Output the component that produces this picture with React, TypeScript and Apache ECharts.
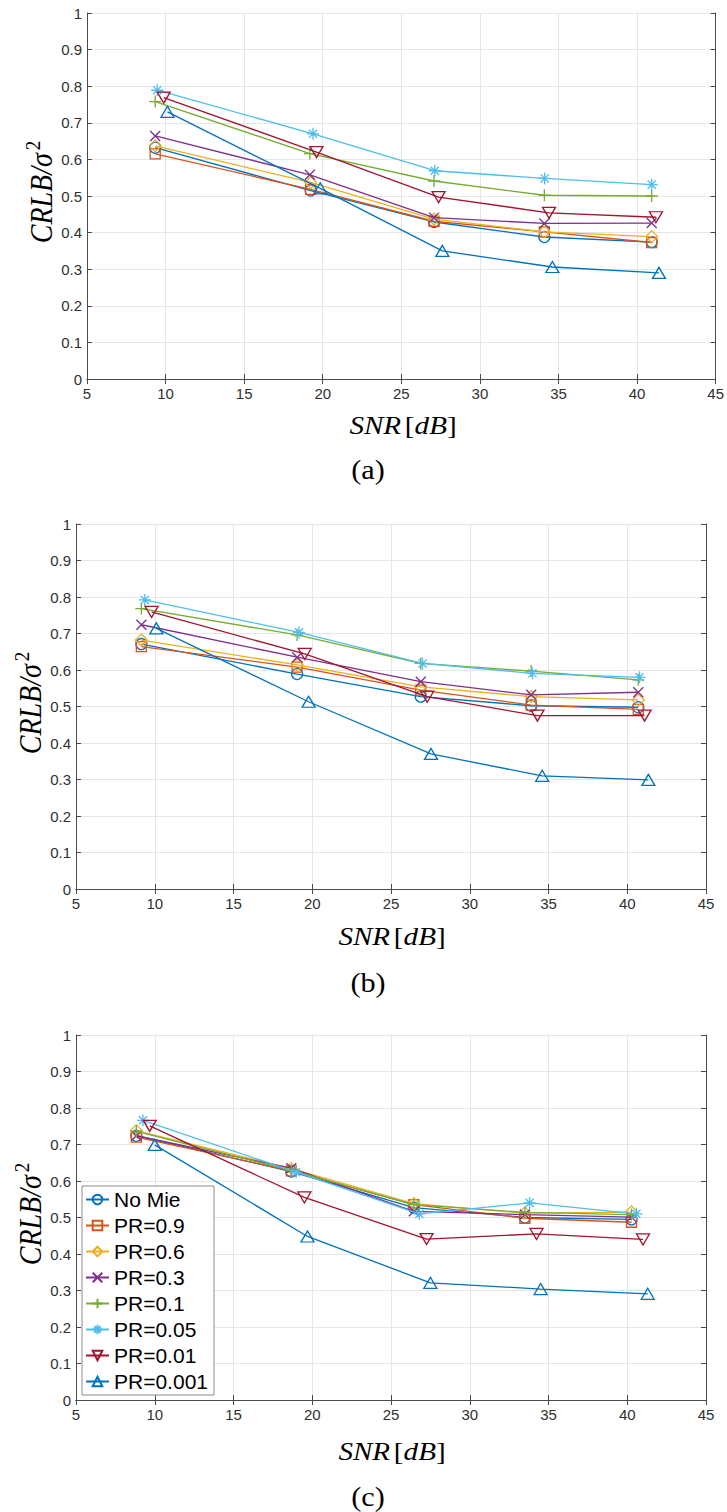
import React, { useEffect, useRef } from 'react';
import * as echarts from 'echarts';

// Legend entries and MATLAB-style line colours
const seriesNames = ['No Mie', 'PR=0.9', 'PR=0.6', 'PR=0.3', 'PR=0.1', 'PR=0.05', 'PR=0.01', 'PR=0.001'];
const seriesColors = ['#0072BD', '#D95319', '#EDB120', '#7E2F8E', '#77AC30', '#4DBEEE', '#A2142F', '#0072BD'];

// Axis ticks
const snrTicks = [5, 10, 15, 20, 25, 30, 35, 40, 45];
const crlbTicks = [0, 0.1, 0.2, 0.3, 0.4, 0.5, 0.6, 0.7, 0.8, 0.9, 1];

// Panel (a): SNR [dB] and CRLB/sigma^2, one row per series
const snrA = [
  [9.34, 19.23, 27.08, 34.1, 40.93],
  [9.34, 19.23, 27.08, 34.1, 40.93],
  [9.34, 19.23, 27.08, 34.1, 40.93],
  [9.34, 19.18, 27.08, 34.1, 40.93],
  [9.34, 19.18, 27.08, 34.1, 40.93],
  [9.47, 19.38, 27.13, 34.12, 40.93],
  [9.88, 19.6, 27.37, 34.4, 41.2],
  [10.12, 19.84, 27.61, 34.61, 41.39],
];
const crlbA = [
  [0.632, 0.515, 0.429, 0.388, 0.374],
  [0.615, 0.518, 0.431, 0.402, 0.373],
  [0.637, 0.537, 0.437, 0.402, 0.389],
  [0.664, 0.558, 0.441, 0.425, 0.426],
  [0.758, 0.616, 0.541, 0.502, 0.5],
  [0.789, 0.67, 0.569, 0.548, 0.531],
  [0.769, 0.62, 0.497, 0.454, 0.442],
  [0.73, 0.521, 0.35, 0.306, 0.29],
];

// Panel (b)
const snrB = [
  [9.15, 19.04, 26.89, 33.9, 40.7],
  [9.15, 19.04, 26.89, 33.9, 40.7],
  [9.15, 19.04, 26.89, 33.9, 40.7],
  [9.15, 19.04, 26.89, 33.9, 40.7],
  [9.15, 19.04, 26.89, 33.9, 40.7],
  [9.37, 19.16, 27.0, 33.98, 40.78],
  [9.8, 19.52, 27.3, 34.3, 41.1],
  [10.1, 19.77, 27.54, 34.6, 41.34],
];
const crlbB = [
  [0.671, 0.589, 0.527, 0.502, 0.498],
  [0.664, 0.608, 0.545, 0.504, 0.492],
  [0.682, 0.614, 0.554, 0.527, 0.518],
  [0.724, 0.635, 0.568, 0.532, 0.539],
  [0.768, 0.696, 0.618, 0.597, 0.573],
  [0.792, 0.703, 0.618, 0.591, 0.58],
  [0.759, 0.644, 0.527, 0.475, 0.475],
  [0.714, 0.513, 0.37, 0.31, 0.299],
];

// Panel (c)
const snrC = [
  [8.83, 18.67, 26.45, 33.5, 40.27],
  [8.83, 18.67, 26.45, 33.5, 40.27],
  [8.83, 18.67, 26.45, 33.5, 40.27],
  [8.83, 18.67, 26.45, 33.5, 40.27],
  [8.83, 18.67, 26.45, 33.5, 40.27],
  [9.25, 18.97, 26.8, 33.8, 40.58],
  [9.68, 19.5, 27.26, 34.24, 41.0],
  [10.0, 19.7, 27.5, 34.5, 41.3],
];
const crlbC = [
  [0.724, 0.626, 0.527, 0.5, 0.495],
  [0.72, 0.628, 0.535, 0.498, 0.487],
  [0.738, 0.634, 0.538, 0.512, 0.515],
  [0.724, 0.635, 0.517, 0.508, 0.501],
  [0.736, 0.629, 0.535, 0.514, 0.508],
  [0.766, 0.624, 0.51, 0.54, 0.51],
  [0.751, 0.555, 0.441, 0.455, 0.44],
  [0.699, 0.448, 0.321, 0.304, 0.291],
];

const panelSnr = [snrA, snrB, snrC];
const panelCrlb = [crlbA, crlbB, crlbC];

// MATLAB marker look-alikes
const X_PATH = 'path://M0,0L10,10M10,0L0,10';
const PLUS_PATH = 'path://M5,0L5,10M0,5L10,5';
const STAR_PATH = 'path://M5,0L5,10M0,5L10,5M1.6,1.6L8.4,8.4M8.4,1.6L1.6,8.4';
const markerShapes = ['circle', 'rect', 'diamond', X_PATH, PLUS_PATH, STAR_PATH, 'triangle', 'triangle'];
const markerRotations = [0, 0, 0, 0, 0, 0, 180, 0];
const markerSizes: any[] = [11, 10, 12, 10, 12, 12, [13, 11], [13, 11]];

// Plot boxes of the three panels (px)
const grids = [
  { left: 87, top: 13, width: 629, height: 366 },
  { left: 76, top: 524, width: 630, height: 365 },
  { left: 76, top: 1035, width: 630, height: 365 },
];

const AXIS_COLOR = '#4a4a4a';
const GRID_COLOR = '#e6e6e6';
const TICK_FONT = '"Liberation Sans", Arial, sans-serif';
const MATH_FONT = '"Liberation Serif", "Times New Roman", serif';

function buildOption() {
  const xAxes: any[] = [];
  const yAxes: any[] = [];
  const series: any[] = [];
  const graphic: any[] = [];

  grids.forEach((g, p) => {
    const common = {
      type: 'value',
      gridIndex: p,
      axisLine: { show: true, lineStyle: { color: AXIS_COLOR, width: 1 } },
      axisTick: { show: true, inside: true, length: 5, lineStyle: { color: AXIS_COLOR, width: 1 } },
    };
    xAxes.push({
      ...common,
      position: 'bottom',
      min: snrTicks[0],
      max: snrTicks[snrTicks.length - 1],
      interval: snrTicks[1] - snrTicks[0],
      axisLabel: { show: true, color: '#303030', fontFamily: TICK_FONT, fontSize: 15, margin: 7 },
      splitLine: { show: true, lineStyle: { color: GRID_COLOR, width: 1 } },
    });
    xAxes.push({
      ...common,
      position: 'top',
      min: snrTicks[0],
      max: snrTicks[snrTicks.length - 1],
      interval: snrTicks[1] - snrTicks[0],
      axisLabel: { show: false },
      splitLine: { show: false },
    });
    yAxes.push({
      ...common,
      position: 'left',
      min: crlbTicks[0],
      max: crlbTicks[crlbTicks.length - 1],
      interval: crlbTicks[1] - crlbTicks[0],
      axisLabel: { show: true, color: '#303030', fontFamily: TICK_FONT, fontSize: 15, margin: 5 },
      splitLine: { show: true, lineStyle: { color: GRID_COLOR, width: 1 } },
    });
    yAxes.push({
      ...common,
      position: 'right',
      min: crlbTicks[0],
      max: crlbTicks[crlbTicks.length - 1],
      interval: crlbTicks[1] - crlbTicks[0],
      axisLabel: { show: false },
      splitLine: { show: false },
    });

    seriesNames.forEach((name, s) => {
      const xs = panelSnr[p][s];
      const ys = panelCrlb[p][s];
      series.push({
        type: 'line',
        name,
        xAxisIndex: p * 2,
        yAxisIndex: p * 2,
        data: xs.map((x, i) => [x, ys[i]]),
        symbol: markerShapes[s],
        symbolSize: markerSizes[s],
        symbolRotate: markerRotations[s],
        showAllSymbol: true,
        clip: false,
        lineStyle: { color: seriesColors[s], width: 1.3 },
        itemStyle: { color: 'rgba(255,255,255,0)', borderColor: seriesColors[s], borderWidth: 1.3 },
        emphasis: { disabled: true },
        silent: true,
        z: 3 + s,
      });
    });
  });

  // Axis titles and panel captions
  const yTitlePos = [
    [42, 192],
    [31, 703],
    [31, 1214],
  ];
  const xTitlePos = [
    [403, 425],
    [392, 936],
    [392, 1451],
  ];
  const captionPos = [
    [368, 470],
    [368, 983],
    [368, 1497],
  ];
  const captions = ['(a)', '(b)', '(c)'];

  for (let p = 0; p < 3; p++) {
    graphic.push({
      type: 'text',
      x: yTitlePos[p][0],
      y: yTitlePos[p][1],
      rotation: Math.PI / 2,
      scaleY: 1.1,
      style: {
        text: '{m|CRLB/σ}{s|2}',
        align: 'center',
        verticalAlign: 'middle',
        fill: '#000',
        rich: {
          m: { fontFamily: MATH_FONT, fontStyle: 'italic', fontSize: 28, lineHeight: 36, fill: '#000' },
          s: { fontFamily: MATH_FONT, fontSize: 19, verticalAlign: 'top', lineHeight: 19, padding: [0, 0, 0, 3], fill: '#000' },
        },
      },
    });
    graphic.push({
      type: 'text',
      x: xTitlePos[p][0],
      y: xTitlePos[p][1],
      scaleX: 1.12,
      style: {
        text: '{i|SNR} {u|[}{i|dB}{u|]}',
        align: 'center',
        verticalAlign: 'middle',
        fill: '#000',
        rich: {
          i: { fontFamily: MATH_FONT, fontStyle: 'italic', fontSize: 26, fill: '#000' },
          u: { fontFamily: MATH_FONT, fontSize: 26, fill: '#000' },
        },
      },
    });
    graphic.push({
      type: 'text',
      x: captionPos[p][0],
      y: captionPos[p][1],
      scaleX: 1.12,
      style: {
        text: captions[p],
        align: 'center',
        verticalAlign: 'middle',
        fontFamily: MATH_FONT,
        fontSize: 27,
        fill: '#000',
      },
    });
  }

  return {
    animation: false,
    backgroundColor: '#ffffff',
    grid: grids.map((g) => ({ ...g, containLabel: false })),
    xAxis: xAxes,
    yAxis: yAxes,
    legend: {
      show: true,
      data: seriesNames,
      orient: 'vertical',
      left: 82,
      top: 1186,
      itemWidth: 23,
      itemHeight: 12,
      itemGap: 5,
      itemTextGap: 2,
      padding: [3, 6, 3, 3],
      backgroundColor: '#ffffff',
      borderColor: '#8c8c8c',
      borderWidth: 1,
      selectedMode: false,
      textStyle: { fontFamily: TICK_FONT, fontSize: 21, color: '#000' },
      z: 10,
    },
    series,
    graphic,
  };
}

export default function App() {
  const ref = useRef<HTMLDivElement>(null);
  useEffect(() => {
    if (!ref.current) return;
    const chart = echarts.init(ref.current, undefined, { renderer: 'svg' });
    chart.setOption(buildOption() as any);
    return () => chart.dispose();
  }, []);
  return (
    <div
      ref={ref}
      style={{ position: 'absolute', left: 0, top: 0, width: 727, height: 1512, background: '#fff' }}
    />
  );
}
